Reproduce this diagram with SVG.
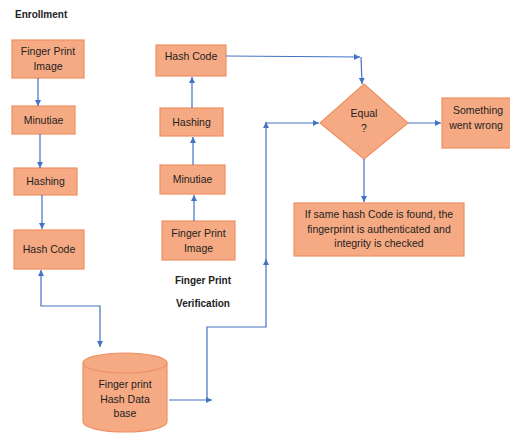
<svg xmlns="http://www.w3.org/2000/svg" width="510" height="433" viewBox="0 0 510 433">
<defs>
<marker id="ah" markerWidth="8" markerHeight="8" refX="6" refY="3" orient="auto" markerUnits="userSpaceOnUse">
<path d="M0,0 L6,3 L0,6 Z" fill="#4472C4"/>
</marker>
<marker id="ahs" markerWidth="8" markerHeight="8" refX="0" refY="3" orient="auto" markerUnits="userSpaceOnUse">
<path d="M6,0 L0,3 L6,6 Z" fill="#4472C4"/>
</marker>
</defs>
<style>
.box{fill:#F6AA83;stroke:#EE9064;stroke-width:1.2}
.t{font-family:"Liberation Sans",Arial,sans-serif;font-size:10.5px;fill:#222;text-anchor:middle}
.b{font-family:"Liberation Sans",Arial,sans-serif;font-size:10px;font-weight:bold;fill:#222}
.c{fill:none;stroke:#4472C4;stroke-width:1.2;marker-end:url(#ah)}
</style>
<rect width="510" height="433" fill="#ffffff"/>
<text class="b" x="15" y="18">Enrollment</text>
<text class="b" x="203" y="284" text-anchor="middle">Finger Print</text>
<text class="b" x="203" y="307" text-anchor="middle">Verification</text>

<g id="e-fpi"><rect class="box" x="12" y="40" width="72" height="38"/><text class="t" x="48" y="55">Finger Print</text><text class="t" x="48" y="70">Image</text></g>
<g id="e-min"><rect class="box" x="12" y="106" width="63" height="28"/><text class="t" x="43.5" y="124">Minutiae</text></g>
<g id="e-hash"><rect class="box" x="14" y="168" width="63" height="27"/><text class="t" x="45.5" y="185">Hashing</text></g>
<g id="e-code"><rect class="box" x="14" y="230" width="70" height="39"/><text class="t" x="49" y="253">Hash Code</text></g>

<g id="db">
<path class="box" d="M83,363 L83,422 A42,10 0 0 0 167,422 L167,363"/>
<ellipse class="box" cx="125" cy="363" rx="42" ry="10"/>
<text class="t" x="125" y="388">Finger print</text>
<text class="t" x="125" y="403">Hash Data</text>
<text class="t" x="125" y="417">base</text>
</g>

<g id="v-code"><rect class="box" x="156" y="45" width="70" height="31"/><text class="t" x="191" y="60">Hash Code</text></g>
<g id="v-hash"><rect class="box" x="160" y="108" width="63" height="28"/><text class="t" x="191.5" y="126">Hashing</text></g>
<g id="v-min"><rect class="box" x="160" y="165" width="65" height="29"/><text class="t" x="192.5" y="183">Minutiae</text></g>
<g id="v-fpi"><rect class="box" x="162" y="221" width="73" height="39"/><text class="t" x="198.5" y="237">Finger Print</text><text class="t" x="198.5" y="252">Image</text></g>

<g id="equal"><polygon class="box" points="364,84 408,123 364,159 320,123"/><text class="t" x="364" y="117">Equal</text><text class="t" x="364" y="132">?</text></g>
<g id="wrong"><rect class="box" x="442" y="98" width="72" height="50"/><text class="t" x="478" y="114">Something</text><text class="t" x="476" y="129">went wrong</text></g>
<g id="result"><rect class="box" x="294" y="203" width="170" height="53"/>
<text class="t" x="379" y="218">If same hash Code is found, the</text>
<text class="t" x="379" y="233">fingerprint is authenticated and</text>
<text class="t" x="379" y="247">integrity is checked</text></g>

<g id="connectors">
<path class="c" d="M38,78 L38,106"/>
<path class="c" d="M40,134 L40,168"/>
<path class="c" d="M42,195 L42,229"/>
<path class="c" style="marker-start:url(#ahs)" d="M41,270 L41,306 L100,306 L100,347"/>
<path class="c" d="M169,400 L212,400"/>
<path class="c" d="M207,400 L207,327 L266,327 L266,259"/>
<path class="c" d="M266,262 L266,122"/>
<path class="c" d="M266,123 L319,123"/>
<path class="c" d="M194,221 L194,195"/>
<path class="c" d="M193,165 L193,137"/>
<path class="c" d="M192,108 L192,77"/>
<path class="c" d="M226,56 L360,57"/>
<path class="c" d="M361,57 L362,84"/>
<path class="c" d="M408,123 L441,123"/>
<path class="c" d="M364,159 L364,202"/>
</g>
</svg>
